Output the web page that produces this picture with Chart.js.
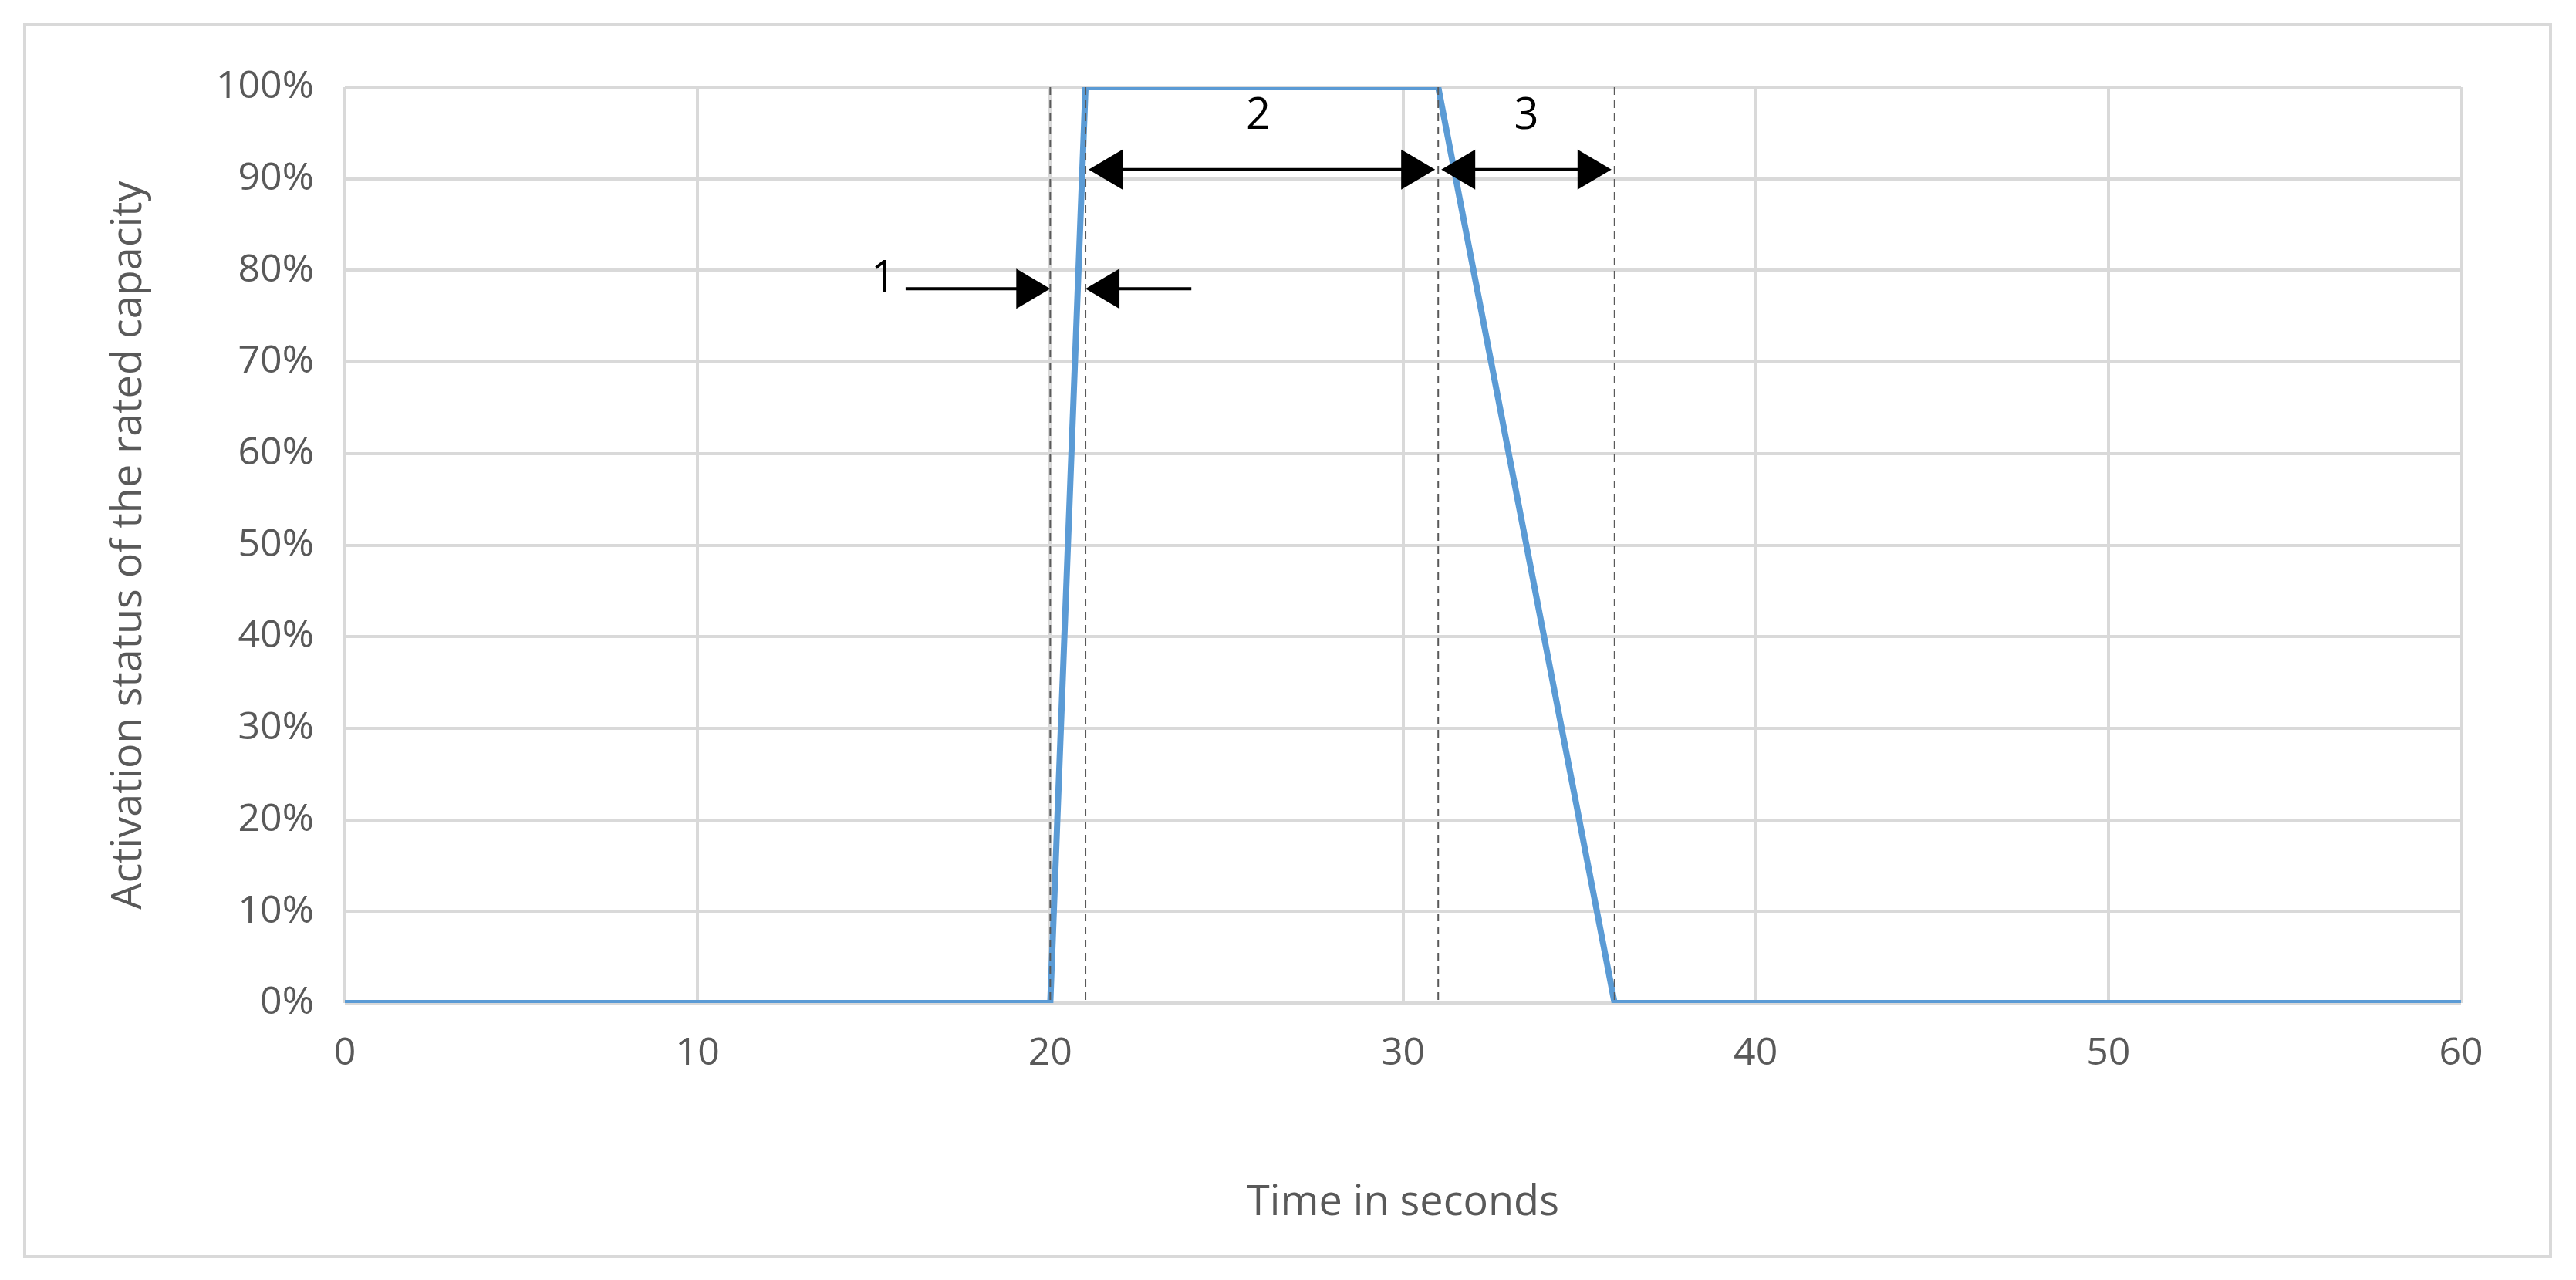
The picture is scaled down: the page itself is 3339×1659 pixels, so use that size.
<!DOCTYPE html>
<html>
<head>
<meta charset="utf-8">
<script src="https://cdn.jsdelivr.net/npm/chart.js@4"></script>
<style>
  body { margin: 0; background: #fff; }
  #frame { position: absolute; left: 30px; top: 30px; width: 3270px; height: 1592px; border: 4px solid #d9d9d9; }
  canvas { position: absolute; left: 0; top: 0; }
</style>
</head>
<body>
<div id="frame"></div>
<canvas id="myChart" width="3339" height="1659"></canvas>
<script>
// data
const times = [0, 20, 21, 31, 36, 60];
const activation = [0, 0, 100, 100, 0, 0];
const markerTimes = [20, 21, 31, 36];
const xTicks = [0, 10, 20, 30, 40, 50, 60];
const yTicks = [0, 10, 20, 30, 40, 50, 60, 70, 80, 90, 100];

const font = '"Open Sans", "Liberation Sans", sans-serif';
const gray = '#595959';

function arrowHead(ctx, x, y, dir) {
  ctx.beginPath();
  ctx.moveTo(x, y);
  ctx.lineTo(x - dir * 44, y - 26);
  ctx.lineTo(x - dir * 44, y + 26);
  ctx.closePath();
  ctx.fill();
}

// annotations: dashed markers, arrows, labels, axis titles
const annotations = {
  id: 'annotations',
  afterDatasetsDraw(chart) {
    const { ctx, scales: { x, y }, chartArea } = chart;
    ctx.save();
    ctx.strokeStyle = '#595959';
    ctx.lineWidth = 2;
    ctx.setLineDash([10, 7]);
    markerTimes.forEach(t => {
      ctx.beginPath();
      ctx.moveTo(x.getPixelForValue(t), chartArea.top);
      ctx.lineTo(x.getPixelForValue(t), chartArea.bottom);
      ctx.stroke();
    });
    ctx.setLineDash([]);
    ctx.strokeStyle = '#000';
    ctx.fillStyle = '#000';
    ctx.lineWidth = 4;
    // arrow 1
    const y1 = y.getPixelForValue(78);
    ctx.beginPath();
    ctx.moveTo(x.getPixelForValue(15.9), y1); ctx.lineTo(x.getPixelForValue(20) - 30, y1);
    ctx.moveTo(x.getPixelForValue(21) + 30, y1); ctx.lineTo(x.getPixelForValue(24), y1);
    ctx.stroke();
    arrowHead(ctx, x.getPixelForValue(20), y1, 1);
    arrowHead(ctx, x.getPixelForValue(21), y1, -1);
    // arrows 2 and 3
    const y2 = y.getPixelForValue(91);
    [[21, 31], [31, 36]].forEach(([a, b]) => {
      const pa = x.getPixelForValue(a) + 4, pb = x.getPixelForValue(b) - 4;
      ctx.beginPath(); ctx.moveTo(pa + 30, y2); ctx.lineTo(pb - 30, y2); ctx.stroke();
      arrowHead(ctx, pa, y2, -1);
      arrowHead(ctx, pb, y2, 1);
    });
    ctx.font = '56px ' + font;
    ctx.textAlign = 'center';
    ctx.textBaseline = 'middle';
    ctx.fillText('1', x.getPixelForValue(15.8) - 24, y.getPixelForValue(79));
    ctx.fillText('2', x.getPixelForValue(25.9), y.getPixelForValue(96.8));
    ctx.fillText('3', x.getPixelForValue(33.5), y.getPixelForValue(96.8));
    // axis titles
    ctx.fillStyle = gray;
    ctx.font = '54px ' + font;
    ctx.fillText('Time in seconds', (chartArea.left + chartArea.right) / 2, 1560);
    ctx.translate(168, (chartArea.top + chartArea.bottom) / 2);
    ctx.rotate(-Math.PI / 2);
    ctx.fillText('Activation status of the rated capacity', 0, 0);
    ctx.restore();
  }
};

const config = {
  type: 'scatter',
  data: {
    datasets: [{
      data: times.map((t, i) => ({ x: t, y: activation[i] })),
      showLine: true,
      borderColor: '#5b9bd5',
      borderWidth: 8,
      pointRadius: 0,
      tension: 0
    }]
  },
  options: {
    responsive: false,
    devicePixelRatio: 1,
    animation: false,
    layout: { padding: { top: 113, right: 149, left: 0, bottom: 0 } },
    plugins: { legend: { display: false }, tooltip: { enabled: false } },
    scales: {
      x: {
        type: 'linear', min: 0, max: 60,
        afterBuildTicks: axis => { axis.ticks = xTicks.map(v => ({ value: v })); },
        afterFit: axis => { axis.height = 359; },
        grid: { color: '#d9d9d9', lineWidth: 4, drawTicks: false },
        border: { display: false },
        ticks: { color: gray, font: { size: 50, family: font }, padding: 36 }
      },
      y: {
        min: 0, max: 100,
        afterBuildTicks: axis => { axis.ticks = yTicks.map(v => ({ value: v })); },
        afterFit: axis => { axis.width = 447; },
        grid: { color: '#d9d9d9', lineWidth: 4, drawTicks: false },
        border: { display: false },
        ticks: { color: gray, font: { size: 50, family: font }, padding: 40, callback: v => v + '%' }
      }
    }
  },
  plugins: [annotations]
};

const myChart = new Chart(document.getElementById('myChart'), config);
</script>
</body>
</html>
